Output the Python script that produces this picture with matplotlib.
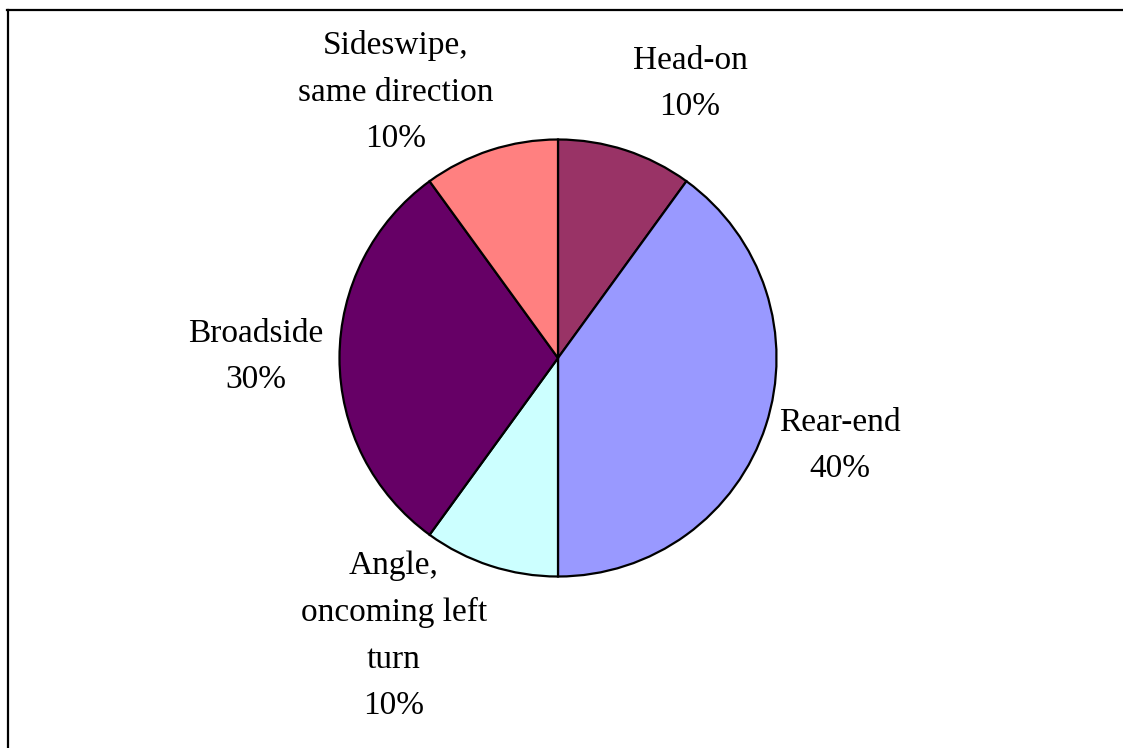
import matplotlib
matplotlib.use("Agg")
import matplotlib.pyplot as plt
import numpy as np
from matplotlib.lines import Line2D

categories = ["Head-on", "Rear-end", "Angle,\noncoming left\nturn", "Broadside", "Sideswipe,\nsame direction"]
values = [10, 40, 10, 30, 10]
colors = ["#993366", "#9999FF", "#CCFFFF", "#660066", "#FF8080"]

W, H = 1123, 748
fig = plt.figure(figsize=(W / 100, H / 100), dpi=100)
ax = fig.add_axes([0, 0, 1, 1])

cx, cy, r = 558, H - 358, 218.5
wedges, _ = ax.pie(values, colors=colors, startangle=90, counterclock=False,
                   center=(cx, cy), radius=r, frame=True,
                   wedgeprops=dict(edgecolor="black", linewidth=1.6))

ax.set_xlim(0, W)
ax.set_ylim(0, H)
ax.set_aspect("equal", adjustable="box")
ax.axis("off")

# label positions (layout, image pixel coords of block centres)
label_pos = [(690, 84), (840, 446), (394, 636), (256, 357), (396, 92)]
total = sum(values)
for cat, v, (lx, ly) in zip(categories, values, label_pos):
    pct = f"{round(100 * v / total)}%"
    ax.text(lx, H - ly, f"{cat}\n{pct}", ha="center", va="center",
            fontsize=24, family="Liberation Serif", linespacing=1.68,
            color="black")

# frame lines (top and left)
fig.add_artist(Line2D([7 / W, 1], [1 - 9.5 / H, 1 - 9.5 / H], transform=fig.transFigure,
                      color="black", linewidth=1.6))
fig.add_artist(Line2D([7.5 / W, 7.5 / W], [0, 1 - 9.5 / H], transform=fig.transFigure,
                      color="black", linewidth=1.6))

fig.savefig("out.png", dpi=100)
